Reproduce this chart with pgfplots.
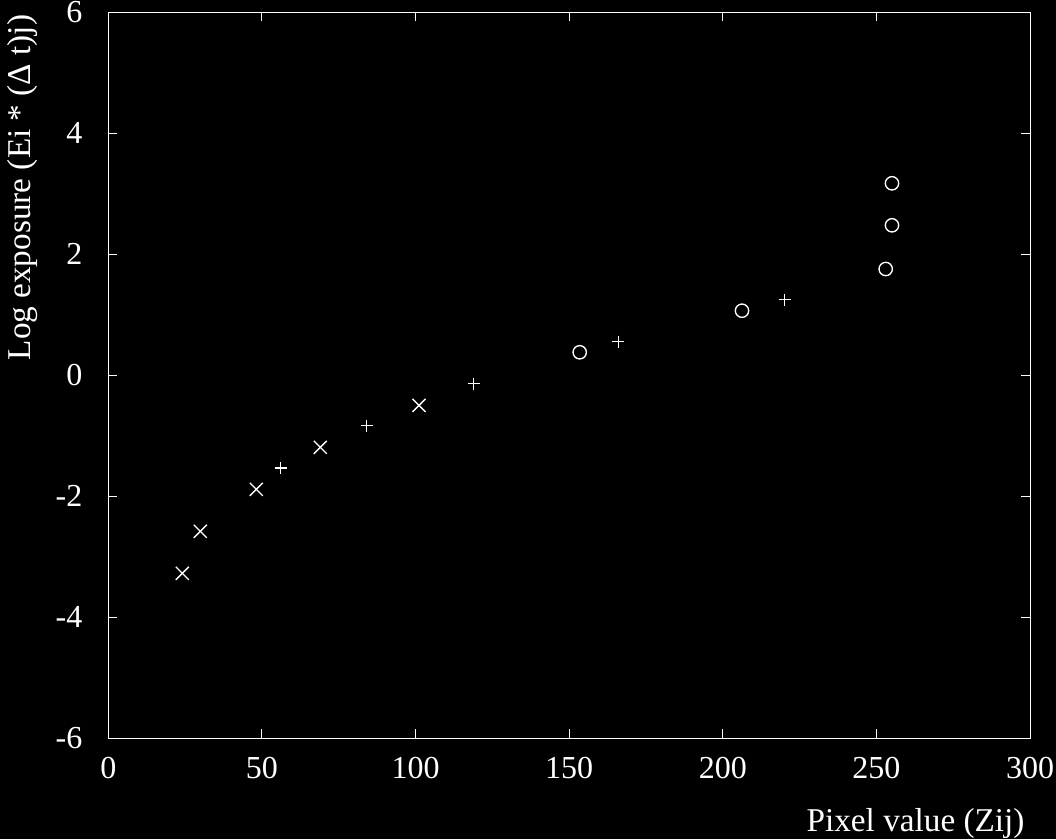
\documentclass[border=0pt]{standalone}
\usepackage{fontspec}
\setmainfont{Liberation Serif}
\usepackage{pgfplots}
\pgfplotsset{compat=1.18}
\begin{document}
\fontsize{12.8}{15}\selectfont
\begin{tikzpicture}
\fill[black] (-43.32pt,-40.28pt) rectangle (379.08pt,295.32pt);
\useasboundingbox (-43.32pt,-40.28pt) rectangle (379.08pt,295.32pt);
\begin{axis}[
  at={(0pt,0pt)}, anchor=south west,
  scale only axis, width=368.68pt, height=290.52pt,
  xmin=0, xmax=300, ymin=-6, ymax=6,
  xtick={0,50,100,150,200,250,300},
  ytick={-6,-4,-2,0,2,4,6},
  yticklabels={-6,-4,-2,0,2,4,6},
  xticklabels={0,50,100,150,200,250,300},
  tick align=inside, major tick length=3.6pt,
  xtick pos=both, ytick pos=both,
  axis line style={white, line width=0.4pt},
  every tick/.style={white, line width=0.4pt},
  xticklabel style={white, inner sep=0pt, anchor=north, yshift=-7.5pt, font=\fontsize{12.8}{15}\selectfont},
  yticklabel style={white, inner sep=0pt, anchor=east, xshift=-10.2pt, font=\fontsize{12.8}{15}\selectfont},
  clip=false,
]
\addplot[only marks, white, mark=x, mark size=3.68pt, line width=0.55pt] coordinates {
 (24.09,-3.274) (29.95,-2.58) (48.17,-1.886) (69.0,-1.192) (101.13,-0.498)
};
\addplot[only marks, white, mark=+, mark size=2.4pt, line width=0.55pt] coordinates {
 (56.11,-1.534) (84.1,-0.835) (118.93,-0.141) (166.0,0.553) (220.16,1.247)
};
\addplot[only marks, white, mark=o, mark size=2.67pt, line width=0.55pt] coordinates {
 (153.43,0.378) (206.26,1.065) (253.03,1.754) (255.08,2.476) (255.08,3.170)
};
\end{axis}
\node[white, anchor=base east, inner sep=0pt, font=\fontsize{13.3}{16}\selectfont] at (366.68pt,-37.4pt) {Pixel value (Zij)};
\node[white, anchor=base, rotate=90, inner sep=0pt, font=\fontsize{13.3}{16}\selectfont] at (-31.3pt,220.3pt) {Log exposure (Ei * (Δ t)j)};
\end{tikzpicture}
\end{document}
